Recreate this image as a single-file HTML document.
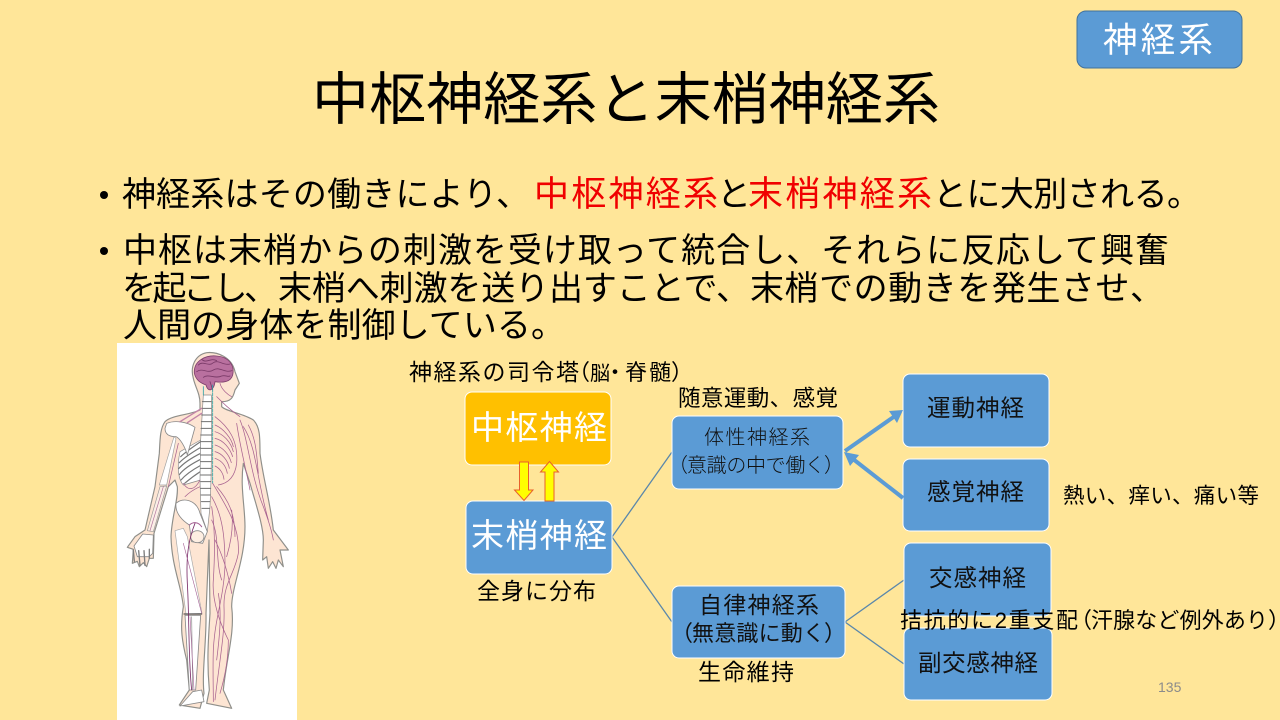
<!DOCTYPE html>
<html lang="ja">
<head>
<meta charset="utf-8">
<title>中枢神経系と末梢神経系</title>
<style>
html,body{margin:0;padding:0;width:1280px;height:720px;overflow:hidden;background:#ffe699}
svg{display:block}
text{font-family:"Liberation Sans","Noto Sans CJK JP",sans-serif;white-space:pre}
.k{fill:#000}
.w{fill:#fff}
.r{fill:#f00000}
.d{fill:#111}
</style>
</head>
<body>
<svg width="1280" height="720" viewBox="0 0 1280 720" xmlns="http://www.w3.org/2000/svg">
<rect width="1280" height="720" fill="#ffe699"/>

<!-- badge -->
<rect x="1077" y="11" width="165" height="57" rx="9" fill="#5b9bd5" stroke="#41719c" stroke-width="1"/>
<text class="w" x="1103" y="52" font-size="34.500" textLength="110" lengthAdjust="spacing">神経系</text>

<!-- title -->
<text class="k" x="312" y="119" font-size="57" textLength="628" lengthAdjust="spacing">中枢神経系と末梢神経系</text>

<!-- bullets -->
<circle cx="104" cy="195" r="4" fill="#000"/>
<circle cx="104" cy="251" r="4" fill="#000"/>
<text class="k" x="122" y="206" font-size="34" textLength="408" lengthAdjust="spacing">神経系はその働きにより、</text>
<text class="r" x="534" y="206" font-size="35" textLength="184" lengthAdjust="spacing">中枢神経系</text>
<text class="k" x="717" y="206" font-size="34" textLength="31" lengthAdjust="spacing">と</text>
<text class="r" x="748" y="206" font-size="35" textLength="184" lengthAdjust="spacing">末梢神経系</text>
<text class="k" x="933" y="206" font-size="34" textLength="268" lengthAdjust="spacing">とに大別される。</text>
<text class="k" x="123" y="262" font-size="34" textLength="1046" lengthAdjust="spacing">中枢は末梢からの刺激を受け取って統合し、それらに反応して興奮</text>
<text class="k" x="122" y="300" font-size="34" textLength="156" lengthAdjust="spacing">を起こし、</text>
<text class="k" x="278" y="300" font-size="34" textLength="472" lengthAdjust="spacing">末梢へ刺激を送り出すことで、</text>
<text class="k" x="750" y="300" font-size="34" textLength="414" lengthAdjust="spacing">末梢での動きを発生させ、</text>
<text class="k" x="123" y="337" font-size="34" textLength="442" lengthAdjust="spacing">人間の身体を制御している。</text>

<!-- body illustration -->
<rect x="117" y="343" width="180" height="377" fill="#fff"/>
<g transform="translate(100 340) scale(.33333)" fill="none" stroke-linejoin="round" stroke-linecap="round">
  <path d="M300,190 L300,210 C270,225 215,225 195,245 C180,265 180,300 178,340 L165,440 L135,570 L105,590 L82,622 L100,628 L97,670 L112,664 L118,680 L130,668 L140,680 L148,655 L160,655 L162,580 L205,440 L225,420 L232,440 C235,480 215,530 213,590 C215,680 245,740 250,800 C240,860 245,900 260,960 L268,1050 L238,1095 L300,1105 L312,1060 C305,1000 320,900 318,820 L327,600 L330,820 C325,900 320,960 328,1050 L320,1090 L395,1105 L370,1050 C380,950 405,880 395,800 C395,740 435,660 435,560 C435,500 420,440 430,370 L450,430 C470,500 490,560 490,600 L488,660 L500,650 L505,685 L518,665 L528,685 L535,660 L550,680 L540,630 L565,630 L520,570 C510,480 490,420 480,340 C480,290 480,260 460,240 C430,220 380,215 365,200 L365,185 C395,185 400,170 405,150 L418,130 L405,95 C395,50 350,35 320,38 C285,45 270,80 280,115 C285,140 300,160 300,190 Z" fill="#fde5d3" stroke="#8f8f8a" stroke-width="3.500"/>
  <!-- brain -->
  <path d="M283,100 C280,60 320,45 350,48 C385,50 405,75 398,105 C392,128 365,128 345,125 C342,150 325,160 318,135 C300,128 288,120 283,100 Z" fill="#b9709f" stroke="#7d3f6c" stroke-width="2.500"/>
  <path d="M295,75 C310,60 325,82 340,68 C355,58 372,78 390,72 M290,95 C308,82 322,102 340,90 C358,78 372,100 396,92 M305,58 C318,72 332,52 350,62 M310,112 C325,100 345,118 365,108 C375,104 385,112 390,108 M330,125 L338,150" stroke="#7a3a68" stroke-width="2.500"/>
  <!-- ribs -->
  <path d="M240,335 C230,380 235,420 250,435 L302,420 L302,300 Z" fill="#fff" stroke="#8a8a8a" stroke-width="2"/>
  <path d="M302,305 C280,320 258,335 242,350 M302,322 C280,335 255,350 238,368 M302,340 C278,352 252,368 236,386 M302,358 C278,370 252,385 238,404 M302,376 C280,388 258,402 243,420 M302,394 C285,405 270,416 254,430" stroke="#777" stroke-width="3.500"/>
  <!-- shoulder blade and arm bones -->
  <path d="M200,250 C225,240 260,245 285,262 L262,345 C255,320 240,295 228,290 C210,290 195,285 195,265 Z" fill="#fff" stroke="#8a8a8a" stroke-width="2.500"/>
  <path d="M222,290 L228,296 L200,435 L178,435 Z" fill="#fff" stroke="#a0a0a0" stroke-width="2"/>
  <path d="M180,440 L200,438 L160,575 L142,572 Z" fill="#fbeee6" stroke="#999" stroke-width="2"/>
  <path d="M190,440 L150,572" stroke="#b0709c" stroke-width="2"/>
  <path d="M102,618 L128,582 L160,585 L158,640 L148,650 L112,650 Z" fill="#fff" stroke="#888" stroke-width="2.500"/>
  <path d="M100,630 L103,664 M116,632 L120,676 M132,632 L135,676 M148,628 L148,655" stroke="#7d7d7d" stroke-width="4"/>
  <!-- spine -->
  <path d="M310,165 L334,165 L335,300 L333,420 L330,500 L322,575 L303,520 L300,420 L302,300 Z" fill="#fff" stroke="#8a8a8a" stroke-width="2"/>
  <path d="M307,185 H334 M306,205 H334 M305,225 H334 M304,245 H334 M303,265 H334 M302,285 H334 M302,305 H334 M302,325 H334 M302,345 H334 M302,365 H334 M302,385 H334 M302,405 H334 M302,425 H332 M302,445 H332 M303,465 H331 M304,485 H330 M306,505 H328" stroke="#707070" stroke-width="3"/>
  <!-- pelvis -->
  <path d="M228,490 C250,470 290,480 300,520 L322,575 L308,610 L275,605 L268,555 C245,540 225,520 228,490 Z" fill="#fff" stroke="#8a8a8a" stroke-width="2.500"/>
  <ellipse cx="292" cy="590" rx="20" ry="18" fill="#fdeee2" stroke="#8a8a8a" stroke-width="2.500"/>
  <path d="M268,555 C280,545 295,545 305,560" stroke="#a35e92" stroke-width="3"/>
  <!-- leg bones -->
  <path d="M225,572 L250,565 L262,590 L306,820 L258,822 Z" fill="#fff" stroke="#a8a8a8" stroke-width="2"/>
  <path d="M255,826 L302,826 L287,1050 L268,1050 Z" fill="#fff" stroke="#8a8a8a" stroke-width="2.500"/>
  <path d="M275,830 L278,1050" stroke="#8a8a8a" stroke-width="2"/>
  <path d="M278,1055 L305,1050 L312,1085 L240,1098 Z" fill="#fff" stroke="#8a8a8a" stroke-width="2.500"/>
  <path d="M252,822 H305" stroke="#555" stroke-width="3.500"/>
  <!-- spinal cord -->
  <path d="M338,135 L338,430" stroke="#2fa5a8" stroke-width="2.500" stroke-dasharray="9 3"/>
  <path d="M310,140 L310,165" stroke="#2fa5a8" stroke-width="2.500"/>
  <!-- nerves -->
  <g stroke="#a8618f" stroke-width="2.200">
    <path d="M345,230 C385,260 415,300 410,370 C405,410 385,430 355,435"/>
    <path d="M345,255 C370,265 395,295 400,320 M345,275 C370,282 392,305 400,335 M345,295 C370,300 390,325 398,350 M345,315 C370,322 388,345 394,368 M345,335 C365,340 384,360 388,385 M345,355 C365,362 378,378 382,400 M345,378 C360,385 370,400 372,418"/>
    <path d="M420,240 C445,300 450,400 490,500 C505,540 515,570 520,600 M430,260 C470,320 470,420 505,540 M410,250 C420,320 445,420 450,450 M445,255 C470,300 470,350 475,400"/>
    <path d="M338,430 C380,500 420,560 415,640 C405,700 370,730 372,800 C375,880 360,950 345,1080"/>
    <path d="M335,470 C370,530 375,600 375,680 C370,780 345,830 340,930 C338,990 340,1040 340,1085"/>
    <path d="M335,500 C345,560 345,640 340,720 C335,780 360,850 385,900 C385,960 375,1010 360,1060"/>
    <path d="M380,650 C395,600 400,550 395,510 M335,540 C360,590 345,660 365,720 M350,440 C385,480 405,520 405,590 M345,600 C370,650 385,700 395,760 M355,760 C365,820 360,880 350,960"/>
    <path d="M360,130 C365,150 385,165 395,170 M350,170 C370,190 385,205 420,230"/>
    <path d="M250,430 C265,455 285,450 300,420 M255,470 C275,450 290,445 300,440"/>
    <path d="M235,310 L205,440" stroke-width="2.200"/>
  </g>
  <path d="M240,245 L305,205 M262,248 L305,220" stroke="#c283a8" stroke-width="4"/>
  <path d="M285,550 C265,600 258,650 262,730 C268,830 265,960 275,1050" stroke="#7a2d68" stroke-width="2.500"/>
  <path d="M250,610 L305,820 M270,830 L282,1050" stroke="#a35e92" stroke-width="1.800"/>
</g>

<!-- connectors -->
<g stroke="#5a87ab" stroke-width="1.300" fill="none">
  <line x1="612" y1="537" x2="672" y2="452"/>
  <line x1="612" y1="537" x2="672" y2="622"/>
  <line x1="845" y1="622" x2="904" y2="580"/>
  <line x1="845" y1="622" x2="904" y2="664"/>
</g>

<!-- boxes -->
<g stroke="#fff" stroke-width="1">
  <rect x="465" y="392" width="146" height="73" rx="7" fill="#ffc000"/>
  <rect x="466" y="501" width="146" height="73" rx="7" fill="#5b9bd5"/>
  <rect x="672" y="416" width="171" height="73" rx="7" fill="#5b9bd5"/>
  <rect x="672" y="586" width="173" height="72" rx="7" fill="#5b9bd5"/>
  <rect x="903" y="374" width="146" height="73" rx="7" fill="#5b9bd5"/>
  <rect x="903" y="459" width="146" height="72" rx="7" fill="#5b9bd5"/>
  <rect x="904" y="543" width="147" height="73" rx="7" fill="#5b9bd5"/>
  <rect x="904" y="628" width="148" height="72" rx="7" fill="#5b9bd5"/>
</g>

<!-- yellow arrows -->
<path d="M519.5,462 H528.5 V490 H533 L524,500.500 L514.500,490 H519.5 Z" fill="#ffff00" stroke="#e8602c" stroke-width="1"/>
<path d="M545,501 H554 V472 H558.500 L549.500,461.500 L540.500,472 H545 Z" fill="#ffff00" stroke="#e8602c" stroke-width="1"/>

<!-- thick arrows -->
<g stroke="#5b9bd5" stroke-width="4" fill="none">
  <line x1="845" y1="451" x2="895" y2="416"/>
  <line x1="903" y1="498" x2="853" y2="459"/>
</g>
<path d="M903,410 L889,411 L897,423 Z" fill="#5b9bd5"/>
<path d="M844,452 L850,466 L859,455 Z" fill="#5b9bd5"/>

<!-- box labels -->
<text class="w" x="471" y="439" font-size="33" textLength="136" lengthAdjust="spacing">中枢神経</text>
<text class="w" x="471" y="547" font-size="33" textLength="136" lengthAdjust="spacing">末梢神経</text>
<text class="d" x="704" y="444" font-size="20" font-weight="300" textLength="106" lengthAdjust="spacing">体性神経系</text>
<text class="d" x="668" y="472" font-size="20" font-weight="300">（</text>
<text class="d" x="687" y="472" font-size="20" font-weight="300" textLength="138" lengthAdjust="spacing">意識の中で働く</text>
<text class="d" x="824" y="472" font-size="20" font-weight="300">）</text>
<text class="d" x="699" y="613" font-size="23" textLength="120" lengthAdjust="spacing">自律神経系</text>
<text class="d" x="671" y="641" font-size="22">（</text>
<text class="d" x="692" y="641" font-size="22" textLength="133" lengthAdjust="spacing">無意識に動く</text>
<text class="d" x="824" y="641" font-size="22">）</text>
<text class="d" x="927" y="416" font-size="23.500" textLength="97" lengthAdjust="spacing">運動神経</text>
<text class="d" x="927" y="500" font-size="23.500" textLength="97" lengthAdjust="spacing">感覚神経</text>
<text class="d" x="929" y="586" font-size="23.500" textLength="97" lengthAdjust="spacing">交感神経</text>
<text class="d" x="918" y="671" font-size="23.500" textLength="120" lengthAdjust="spacing">副交感神経</text>

<!-- free labels -->
<text class="k" x="409" y="380" font-size="23" textLength="170" lengthAdjust="spacing">神経系の司令塔</text>
<text class="k" x="568" y="380" font-size="22">（</text>
<text class="k" x="590" y="380" font-size="20">脳</text>
<text class="k" x="604" y="380" font-size="22">・</text>
<text class="k" x="625" y="380" font-size="22" textLength="46" lengthAdjust="spacing">脊髄</text>
<text class="k" x="671" y="380" font-size="22">）</text>
<text class="k" x="678" y="406" font-size="22.500" textLength="160" lengthAdjust="spacing">随意運動、感覚</text>
<text class="k" x="477" y="599" font-size="23" textLength="119" lengthAdjust="spacing">全身に分布</text>
<text class="k" x="698" y="680" font-size="23" textLength="96" lengthAdjust="spacing">生命維持</text>
<text class="k" x="1063" y="503" font-size="21.500" textLength="196" lengthAdjust="spacing">熱い、痒い、痛い等</text>
<text class="k" x="900" y="628" font-size="22" textLength="178" lengthAdjust="spacing">拮抗的に2重支配</text>
<text class="k" x="1070" y="628" font-size="22">（</text>
<text class="k" x="1091" y="628" font-size="22" textLength="177" lengthAdjust="spacing">汗腺など例外あり</text>
<text class="k" x="1268" y="628" font-size="22">）</text>
<text x="1158" y="692" font-size="14" fill="#8b8b8b">135</text>
</svg>
</body>
</html>
